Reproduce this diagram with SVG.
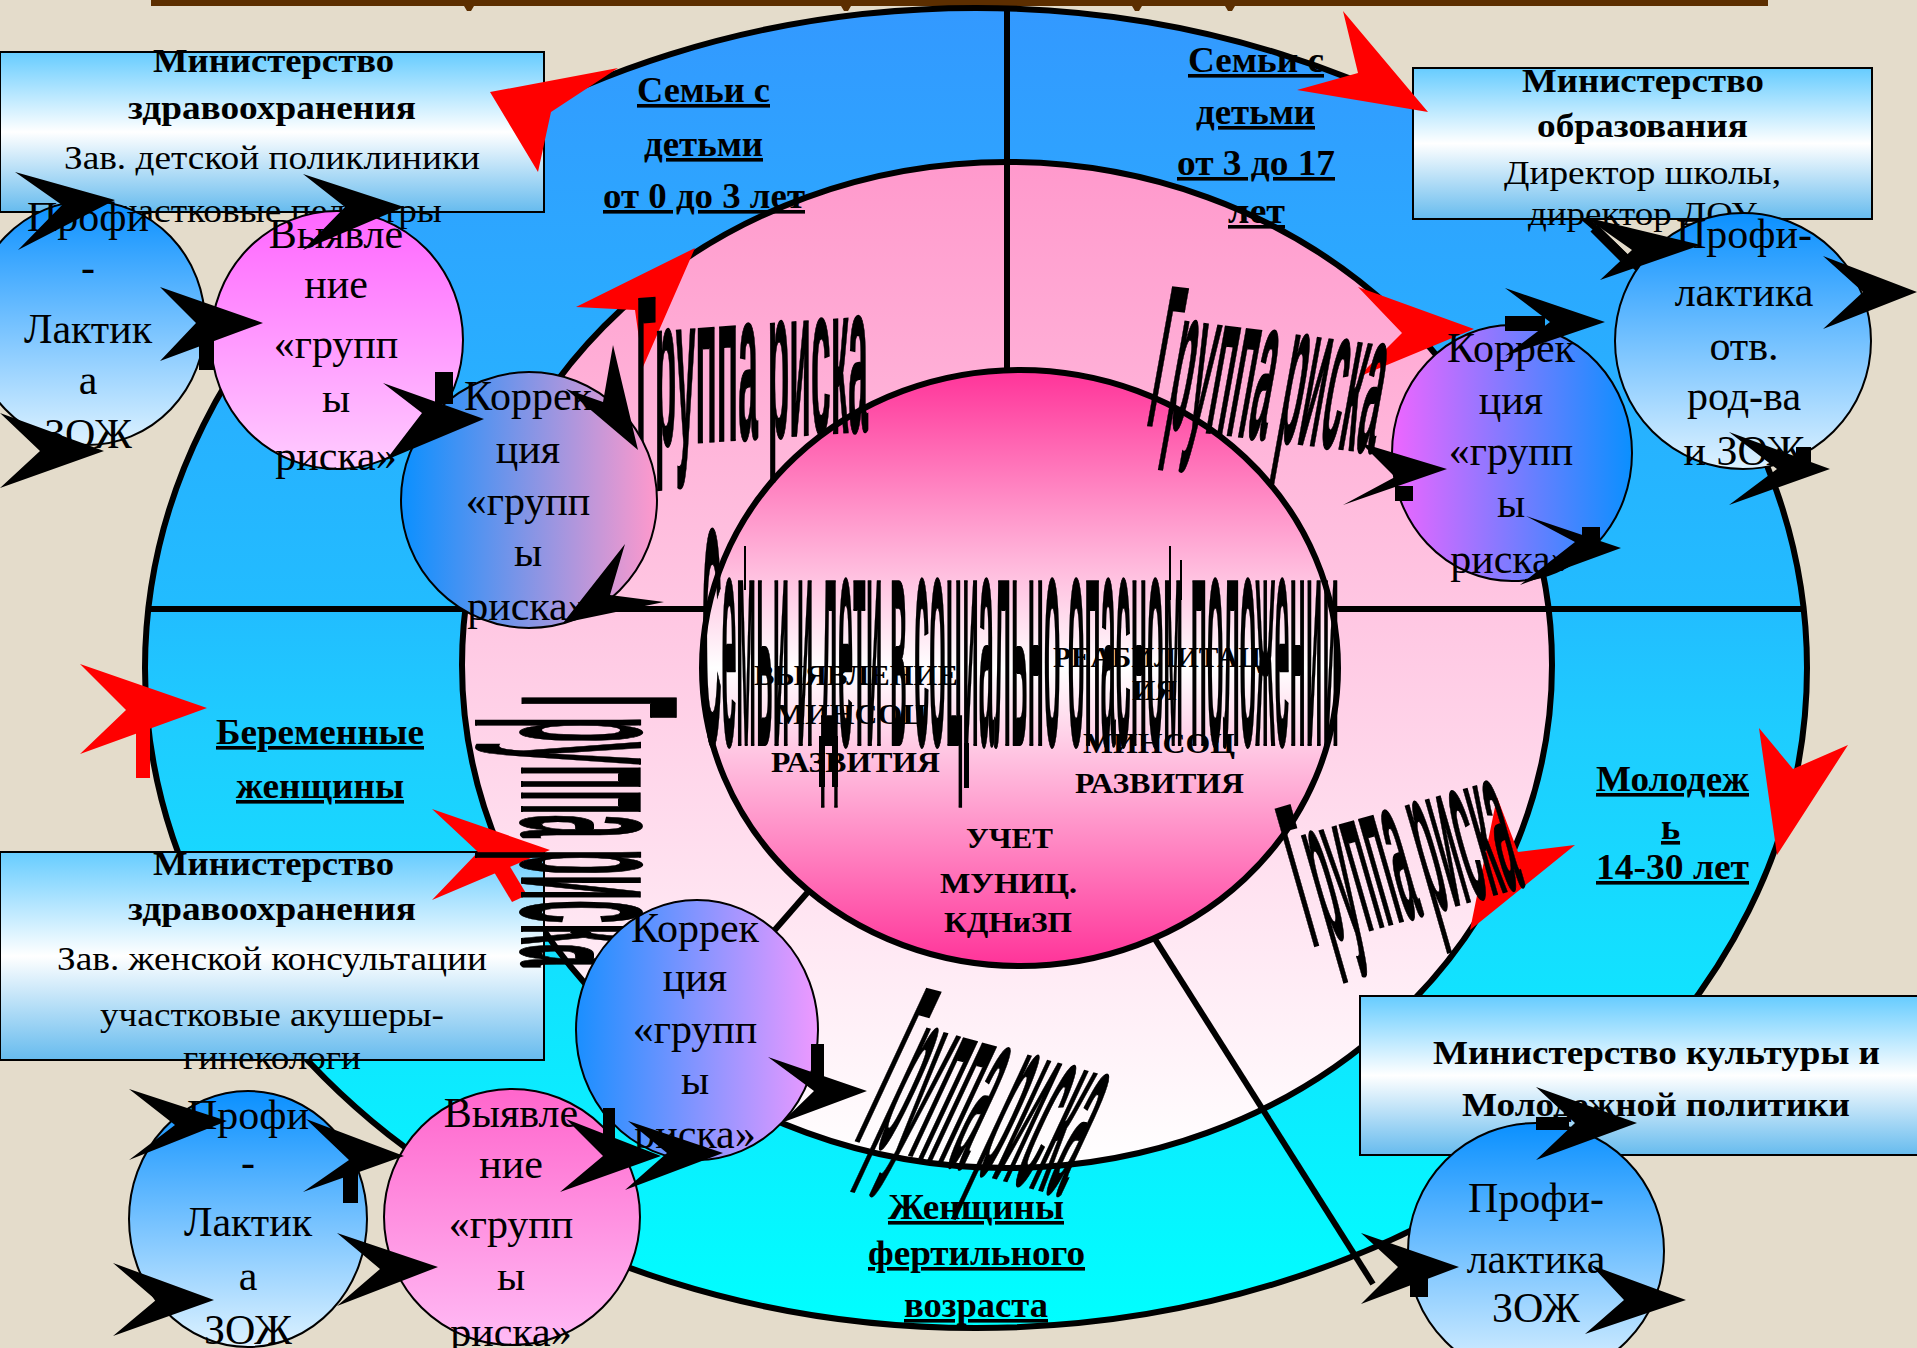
<svg xmlns="http://www.w3.org/2000/svg" width="1917" height="1348" viewBox="0 0 1917 1348">
<defs>
<linearGradient id="gOuter" x1="0" y1="0" x2="0" y2="1"><stop offset="0" stop-color="#3399FF"/><stop offset="0.45" stop-color="#22BCFF"/><stop offset="0.55" stop-color="#1ECDFF"/><stop offset="1" stop-color="#00FFFF"/></linearGradient>
<linearGradient id="gMid" x1="0" y1="0" x2="0" y2="1"><stop offset="0" stop-color="#FF99CC"/><stop offset="0.5" stop-color="#FFCCE5"/><stop offset="1" stop-color="#FFFFFF"/></linearGradient>
<linearGradient id="gCenter" x1="0" y1="0" x2="0" y2="1"><stop offset="0" stop-color="#FF3399"/><stop offset="0.5" stop-color="#FFFFFF"/><stop offset="1" stop-color="#FF3399"/></linearGradient>
<linearGradient id="gBox" x1="0" y1="0" x2="0" y2="1"><stop offset="0" stop-color="#66CCFF"/><stop offset="0.5" stop-color="#FFFFFF"/><stop offset="1" stop-color="#66BBEE"/></linearGradient>
<linearGradient id="gBlue" x1="0" y1="0" x2="0" y2="1"><stop offset="0" stop-color="#0A90FF"/><stop offset="1" stop-color="#DDF2FF"/></linearGradient>
<linearGradient id="gMag" x1="0" y1="0" x2="0" y2="1"><stop offset="0" stop-color="#FF66FF"/><stop offset="1" stop-color="#FFCCFF"/></linearGradient>
<linearGradient id="gPink" x1="0" y1="0" x2="0" y2="1"><stop offset="0" stop-color="#FF66CC"/><stop offset="1" stop-color="#FFBBF5"/></linearGradient>
<linearGradient id="gKorrL" x1="0" y1="0" x2="1" y2="0"><stop offset="0" stop-color="#0A90FF"/><stop offset="1" stop-color="#FF99CC"/></linearGradient>
<linearGradient id="gKorrH" x1="0" y1="0" x2="1" y2="0"><stop offset="0" stop-color="#1A8FFF"/><stop offset="1" stop-color="#EE99FF"/></linearGradient>
<linearGradient id="gKorrR" x1="0" y1="0" x2="1" y2="0"><stop offset="0" stop-color="#EE66FF"/><stop offset="1" stop-color="#0A90FF"/></linearGradient>
<style>
.ring{stroke:#000;stroke-width:6}
.node{stroke:#000;stroke-width:2}
.box{fill:url(#gBox);stroke:#000;stroke-width:2}
.nt{font-family:"Liberation Serif",serif;font-size:42px;text-anchor:middle;fill:#000}
.bb{font-family:"Liberation Serif",serif;font-weight:bold;font-size:34px;fill:#000}
.br{font-family:"Liberation Serif",serif;font-size:34px;fill:#000}
.lbl{font-family:"Liberation Serif",serif;font-weight:bold;font-size:36px;fill:#000;text-decoration:underline}
.ct{font-family:"Liberation Serif",serif;font-weight:bold;font-size:30px;fill:#000}
.gr{font-family:"Liberation Sans Narrow","Liberation Sans",sans-serif;font-weight:bold;fill:#000;stroke:#000;stroke-width:2}
.red{fill:#FF0000}
.blk{fill:#000}
.div{stroke:#000;stroke-width:6;fill:none}
</style>
</defs>
<rect x="0" y="0" width="1917" height="1348" fill="#E4DCCB"/>
<g id="title-bar" fill="#5C2E00">
<rect x="151" y="0" width="1617" height="6"/>
<polygon points="464,6 474,6 471,11 467,11"/>
<polygon points="841,6 851,6 848,11 844,11"/>
<polygon points="1132,6 1142,6 1139,11 1135,11"/>
<polygon points="1225,6 1235,6 1232,11 1228,11"/>
</g>
<g id="ring-outer"><ellipse cx="976" cy="668" rx="831" ry="660" fill="url(#gOuter)" class="ring"/></g>
<g id="ring-middle"><ellipse cx="1007" cy="665" rx="545" ry="503" fill="url(#gMid)" class="ring"/></g>
<g id="dividers">
<line class="div" x1="1007" y1="6" x2="1007" y2="380"/>
<line class="div" x1="147" y1="609" x2="1805" y2="609"/>
<line class="div" x1="814" y1="885" x2="705" y2="1010"/>
<line class="div" x1="1153" y1="936" x2="1373" y2="1284"/>
</g>
<g id="center-circle">
<ellipse cx="1020" cy="668" rx="318" ry="298" fill="url(#gCenter)" class="ring"/>
<text class="ct" x="754" y="685" textLength="204" lengthAdjust="spacingAndGlyphs" font-size="26">ВЫЯВЛЕНИЕ</text>
<text class="ct" x="775" y="724" textLength="152" lengthAdjust="spacingAndGlyphs" font-size="28">МИНСОЦ</text>
<text class="ct" x="771" y="772" textLength="169" lengthAdjust="spacingAndGlyphs">РАЗВИТИЯ</text>
<text class="ct" x="1053" y="667" textLength="208" lengthAdjust="spacingAndGlyphs" font-size="26">РЕАБИЛИТАЦ</text>
<text class="ct" x="1132" y="700" font-size="26">ИЯ</text>
<text class="ct" x="1083" y="753" textLength="152" lengthAdjust="spacingAndGlyphs" font-size="28">МИНСОЦ</text>
<text class="ct" x="1075" y="793" textLength="169" lengthAdjust="spacingAndGlyphs">РАЗВИТИЯ</text>
<text class="ct" x="966" y="848" textLength="87" lengthAdjust="spacingAndGlyphs">УЧЕТ</text>
<text class="ct" x="940" y="893" textLength="137" lengthAdjust="spacingAndGlyphs">МУНИЦ.</text>
<text class="ct" x="944" y="932" textLength="128" lengthAdjust="spacingAndGlyphs">КДНиЗП</text>
<rect x="819" y="736" width="6" height="51" fill="#000"/>
<rect x="832" y="736" width="6" height="51" fill="#000"/>
<rect x="964" y="743" width="5" height="45" fill="#000"/>
<line x1="745" y1="546" x2="745" y2="590" stroke="#000" stroke-width="2"/>
<line x1="1170" y1="546" x2="1170" y2="600" stroke="#000" stroke-width="2"/>
<line x1="1181" y1="560" x2="1181" y2="600" stroke="#000" stroke-width="2"/>
<text class="gr" x="702" y="745" font-size="310" textLength="637" lengthAdjust="spacingAndGlyphs">Семьи и дети в  социально опасном положении</text>
</g>
<g id="ring-labels">
<text class="lbl" x="637" y="102" textLength="133" lengthAdjust="spacingAndGlyphs">Семьи с</text>
<text class="lbl" x="644" y="156" textLength="119" lengthAdjust="spacingAndGlyphs">детьми</text>
<text class="lbl" x="603" y="208" textLength="202" lengthAdjust="spacingAndGlyphs">от 0 до 3 лет</text>
<text class="lbl" x="1188" y="72" textLength="136" lengthAdjust="spacingAndGlyphs">Семьи с</text>
<text class="lbl" x="1196" y="124" textLength="119" lengthAdjust="spacingAndGlyphs">детьми</text>
<text class="lbl" x="1177" y="175" textLength="158" lengthAdjust="spacingAndGlyphs">от 3 до 17</text>
<text class="lbl" x="1228" y="223" textLength="57" lengthAdjust="spacingAndGlyphs">лет</text>
<text class="lbl" x="216" y="744" textLength="208" lengthAdjust="spacingAndGlyphs">Беременные</text>
<text class="lbl" x="236" y="798" textLength="168" lengthAdjust="spacingAndGlyphs">женщины</text>
<text class="lbl" x="1596" y="791" textLength="153" lengthAdjust="spacingAndGlyphs">Молодеж</text>
<text class="lbl" x="1661" y="839">ь</text>
<text class="lbl" x="1596" y="879" textLength="153" lengthAdjust="spacingAndGlyphs">14-30 лет</text>
<text class="lbl" x="888" y="1219" textLength="176" lengthAdjust="spacingAndGlyphs">Женщины</text>
<text class="lbl" x="868" y="1265" textLength="217" lengthAdjust="spacingAndGlyphs">фертильного</text>
<text class="lbl" x="904" y="1317" textLength="144" lengthAdjust="spacingAndGlyphs">возраста</text>
</g>
<g id="box-health-children">
<rect class="box" x="0" y="52" width="544" height="160"/>
<text class="bb" x="153" y="72" textLength="241" lengthAdjust="spacingAndGlyphs">Министерство</text>
<text class="bb" x="128" y="119" textLength="288" lengthAdjust="spacingAndGlyphs">здравоохранения</text>
<text class="br" x="64" y="169" textLength="416" lengthAdjust="spacingAndGlyphs">Зав. детской поликлиники</text>
<text class="br" x="100" y="222" textLength="342" lengthAdjust="spacingAndGlyphs">участковые педиатры</text>
</g>
<g id="box-education">
<rect class="box" x="1413" y="68" width="459" height="151"/>
<text class="bb" x="1522" y="92" textLength="242" lengthAdjust="spacingAndGlyphs">Министерство</text>
<text class="bb" x="1537" y="137" textLength="211" lengthAdjust="spacingAndGlyphs">образования</text>
<text class="br" x="1504" y="184" textLength="277" lengthAdjust="spacingAndGlyphs">Директор школы,</text>
<text class="br" x="1528" y="225" textLength="229" lengthAdjust="spacingAndGlyphs">директор ДОУ</text>
</g>
<g id="box-health-women">
<rect class="box" x="0" y="852" width="544" height="208"/>
<text class="bb" x="153" y="875" textLength="241" lengthAdjust="spacingAndGlyphs">Министерство</text>
<text class="bb" x="128" y="920" textLength="288" lengthAdjust="spacingAndGlyphs">здравоохранения</text>
<text class="br" x="57" y="970" textLength="430" lengthAdjust="spacingAndGlyphs">Зав. женской консультации</text>
<text class="br" x="100" y="1026" textLength="344" lengthAdjust="spacingAndGlyphs">участковые акушеры-</text>
<text class="br" x="183" y="1069" textLength="178" lengthAdjust="spacingAndGlyphs">гинекологи</text>
</g>
<g id="box-culture">
<rect class="box" x="1360" y="996" width="560" height="159"/>
<text class="bb" x="1433" y="1064" textLength="447" lengthAdjust="spacingAndGlyphs">Министерство культуры и</text>
<text class="bb" x="1462" y="1116" textLength="388" lengthAdjust="spacingAndGlyphs">Молодежной политики</text>
</g>
<g id="connectors">
<g class="red">
<polygon points="490,92 618,68 551,112 538,172"/>
<polygon points="1428,112 1343,11 1358,73 1297,90"/>
<polygon points="695,248 576,307 635,310 643,367"/>
<polygon points="1474,329 1358,287 1402,333 1358,377"/>
<polygon points="207,708 80,664 126,710 80,754"/>
<rect x="136" y="712" width="14" height="66"/>
<polygon points="550,850 432,809 478,852 432,900"/>
<polygon points="488,862 503,855 527,895 512,902"/>
<polygon points="1777,855 1759,728 1793,769 1848,745"/>
<polygon points="1470,930 1575,845 1518,852 1497,797"/>
</g>
</g>
<g id="risk-labels">
<text class="gr" transform="translate(636,447) skewY(-4)" font-size="215" textLength="232" lengthAdjust="spacingAndGlyphs">Группа риска</text>
<text class="gr" transform="translate(1145,425) skewY(7) skewX(-10)" font-size="205" textLength="228" lengthAdjust="spacingAndGlyphs">Группа риска</text>
<text class="gr" transform="translate(1312,947) rotate(-16)" font-size="207" textLength="222" lengthAdjust="spacingAndGlyphs">Группа риска</text>
<text class="gr" transform="translate(853,1140) rotate(15) skewX(-10)" font-size="240" textLength="215" lengthAdjust="spacingAndGlyphs">Группа риска</text>
<text class="gr" transform="translate(522,695) rotate(90)" font-size="222" textLength="272" lengthAdjust="spacingAndGlyphs">Группа риска</text>
</g>
<g id="node-a">
<ellipse class="node" cx="88" cy="323" rx="117" ry="122" fill="url(#gBlue)"/>
<text class="nt" x="88" y="231">Профи</text><text class="nt" x="88" y="281">-</text><text class="nt" x="88" y="343">Лактик</text><text class="nt" x="88" y="394">а</text><text class="nt" x="88" y="448">ЗОЖ</text>
</g>
<g id="node-b">
<ellipse class="node" cx="337" cy="340" rx="126" ry="129" fill="url(#gMag)"/>
<text class="nt" x="336" y="248">Выявле</text><text class="nt" x="336" y="298">ние</text><text class="nt" x="336" y="358">«групп</text><text class="nt" x="336" y="412">ы</text><text class="nt" x="336" y="470">риска»</text>
</g>
<g id="node-c">
<ellipse class="node" cx="529" cy="500" rx="128" ry="128" fill="url(#gKorrL)"/>
<text class="nt" x="528" y="410">Коррек</text><text class="nt" x="528" y="463">ция</text><text class="nt" x="528" y="515">«групп</text><text class="nt" x="528" y="566">ы</text><text class="nt" x="528" y="620">риска»</text>
</g>
<g id="node-d">
<ellipse class="node" cx="1512" cy="453" rx="120" ry="128" fill="url(#gKorrR)"/>
<text class="nt" x="1511" y="362">Коррек</text><text class="nt" x="1511" y="414">ция</text><text class="nt" x="1511" y="465">«групп</text><text class="nt" x="1511" y="517">ы</text><text class="nt" x="1511" y="573">риска»</text>
</g>
<g id="node-e">
<ellipse class="node" cx="1743" cy="341" rx="128" ry="128" fill="url(#gBlue)"/>
<text class="nt" x="1744" y="248">Профи-</text><text class="nt" x="1744" y="306">лактика</text><text class="nt" x="1744" y="360">отв.</text><text class="nt" x="1744" y="410">род-ва</text><text class="nt" x="1744" y="465">и ЗОЖ</text>
</g>
<g id="node-f">
<ellipse class="node" cx="248" cy="1219" rx="119" ry="128" fill="url(#gBlue)"/>
<text class="nt" x="248" y="1129">Профи</text><text class="nt" x="248" y="1176">-</text><text class="nt" x="248" y="1236">Лактик</text><text class="nt" x="248" y="1290">а</text><text class="nt" x="248" y="1344">ЗОЖ</text>
</g>
<g id="node-g">
<ellipse class="node" cx="512" cy="1217" rx="128" ry="128" fill="url(#gPink)"/>
<text class="nt" x="511" y="1127">Выявле</text><text class="nt" x="511" y="1178">ние</text><text class="nt" x="511" y="1238">«групп</text><text class="nt" x="511" y="1290">ы</text><text class="nt" x="511" y="1346">риска»</text>
</g>
<g id="node-h">
<ellipse class="node" cx="697" cy="1030" rx="121" ry="130" fill="url(#gKorrH)"/>
<text class="nt" x="695" y="942">Коррек</text><text class="nt" x="695" y="991">ция</text><text class="nt" x="695" y="1043">«групп</text><text class="nt" x="695" y="1094">ы</text><text class="nt" x="695" y="1148">риска»</text>
</g>
<g id="node-i">
<ellipse class="node" cx="1536" cy="1251" rx="128" ry="128" fill="url(#gBlue)"/>
<text class="nt" x="1536" y="1212">Профи-</text><text class="nt" x="1536" y="1273">лактика</text><text class="nt" x="1536" y="1322">ЗОЖ</text>
</g>
<g id="arrows" class="blk">
<polygon points="115,200 15,172 62,205 18,250"/>
<polygon points="404,207 303,174 345,207 303,250"/>
<polygon points="263,323 160,287 196,323 160,361"/><rect x="199" y="340" width="15" height="30"/>
<polygon points="484,419 383,383 422,413 386,460"/><rect x="435" y="372" width="18" height="32"/>
<polygon points="638,450 613,345 603,402 566,389"/>
<polygon points="563,623 625,544 610,595 664,602"/>
<polygon points="104,451 0,413 40,451 0,488"/>
<polygon points="1605,322 1505,288 1550,322 1505,356"/><rect x="1505" y="316" width="40" height="15"/>
<polygon points="1701,245 1585,217 1632,250 1600,280"/><line x1="1594" y1="228" x2="1624" y2="258" stroke="#000" stroke-width="10"/>
<polygon points="1917,292 1823,256 1863,292 1823,329"/>
<polygon points="1447,469 1361,443 1395,477 1343,505"/><rect x="1395" y="486" width="18" height="15"/>
<polygon points="1621,548 1526,516 1575,542 1520,585"/><rect x="1582" y="527" width="18" height="19"/>
<polygon points="1830,469 1729,432 1777,469 1729,505"/><rect x="1796" y="447" width="15" height="17"/>
<polygon points="227,1121 129,1089 175,1125 129,1160"/>
<polygon points="404,1156 306,1119 349,1160 303,1192"/><rect x="343" y="1168" width="15" height="35"/>
<polygon points="214,1300 113,1263 156,1300 113,1336"/>
<polygon points="438,1267 337,1233 380,1269 337,1306"/>
<polygon points="661,1156 566,1119 603,1156 560,1192"/><rect x="603" y="1108" width="12" height="32"/>
<polygon points="723,1153 628,1121 667,1153 625,1190"/>
<polygon points="867,1091 768,1057 814,1091 781,1123"/><rect x="811" y="1044" width="13" height="38"/>
<polygon points="1637,1123 1536,1087 1575,1123 1536,1160"/><rect x="1536" y="1117" width="33" height="13"/>
<polygon points="1459,1267 1361,1233 1398,1267 1361,1304"/><rect x="1410" y="1276" width="18" height="21"/>
<polygon points="1686,1300 1591,1265 1624,1300 1585,1334"/>
</g>
</svg>
